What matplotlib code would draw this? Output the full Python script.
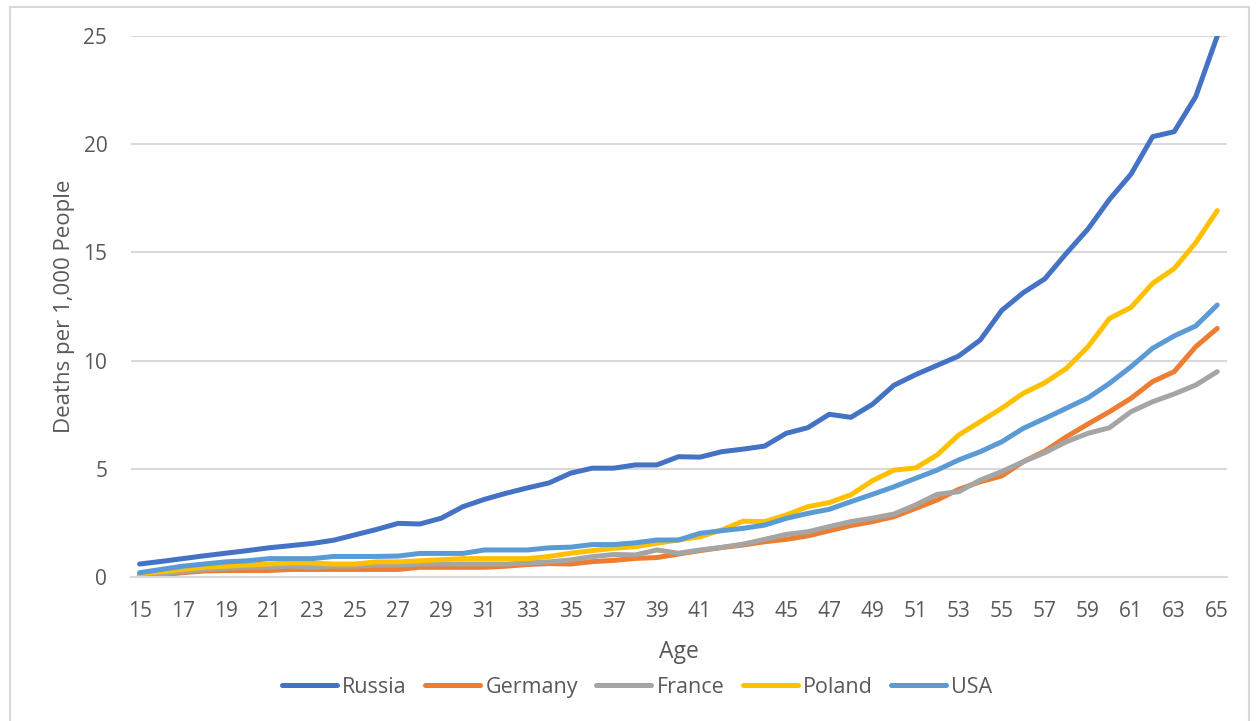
import matplotlib
matplotlib.use("Agg")
import matplotlib.pyplot as plt
from matplotlib.patches import Rectangle

ages = list(range(15, 66))

russia = [0.60, 0.72, 0.85, 0.98, 1.10, 1.22, 1.35, 1.45, 1.55, 1.70,
          1.95, 2.20, 2.48, 2.45, 2.72, 3.25, 3.59, 3.87, 4.12, 4.35,
          4.80, 5.03, 5.03, 5.18, 5.18, 5.56, 5.54, 5.79, 5.91, 6.05,
          6.64, 6.90, 7.52, 7.38, 7.98, 8.86, 9.35, 9.78, 10.21, 10.95,
          12.32, 13.14, 13.78, 14.96, 16.08, 17.45, 18.62, 20.35, 20.58, 22.20,
          25.00]
germany = [0.05, 0.10, 0.20, 0.28, 0.30, 0.30, 0.30, 0.35, 0.35, 0.35,
           0.35, 0.35, 0.35, 0.45, 0.45, 0.45, 0.45, 0.50, 0.58, 0.62,
           0.60, 0.71, 0.77, 0.86, 0.90, 1.06, 1.22, 1.36, 1.48, 1.63,
           1.74, 1.90, 2.14, 2.38, 2.56, 2.79, 3.17, 3.56, 4.05, 4.40,
           4.67, 5.33, 5.82, 6.48, 7.07, 7.64, 8.26, 9.03, 9.49, 10.64,
           11.49]
france = [0.10, 0.15, 0.25, 0.35, 0.40, 0.45, 0.45, 0.50, 0.45, 0.50,
          0.50, 0.55, 0.55, 0.60, 0.60, 0.60, 0.60, 0.60, 0.65, 0.70,
          0.79, 0.94, 1.04, 1.02, 1.25, 1.10, 1.25, 1.37, 1.52, 1.74,
          1.97, 2.09, 2.33, 2.56, 2.72, 2.91, 3.33, 3.82, 3.94, 4.48,
          4.87, 5.33, 5.75, 6.25, 6.64, 6.90, 7.64, 8.10, 8.46, 8.87,
          9.49]
poland = [0.15, 0.25, 0.35, 0.45, 0.50, 0.55, 0.60, 0.65, 0.65, 0.60,
          0.60, 0.70, 0.70, 0.75, 0.80, 0.85, 0.85, 0.85, 0.85, 0.95,
          1.10, 1.22, 1.33, 1.40, 1.56, 1.71, 1.86, 2.17, 2.58, 2.56,
          2.87, 3.25, 3.44, 3.80, 4.45, 4.94, 5.04, 5.64, 6.56, 7.18,
          7.80, 8.49, 8.98, 9.64, 10.64, 11.95, 12.46, 13.57, 14.25, 15.45,
          16.93]
usa = [0.20, 0.35, 0.50, 0.60, 0.70, 0.75, 0.85, 0.85, 0.85, 0.95,
       0.95, 0.95, 0.97, 1.09, 1.09, 1.09, 1.25, 1.25, 1.25, 1.35,
       1.38, 1.50, 1.50, 1.58, 1.71, 1.71, 2.02, 2.14, 2.25, 2.40,
       2.71, 2.94, 3.13, 3.48, 3.82, 4.17, 4.56, 4.94, 5.41, 5.79,
       6.25, 6.87, 7.33, 7.80, 8.28, 8.95, 9.72, 10.57, 11.14, 11.60,
       12.57]

series = [("Russia", russia, "#4472C4"),
          ("Germany", germany, "#ED7D31"),
          ("France", france, "#A5A5A5"),
          ("Poland", poland, "#FFC000"),
          ("USA", usa, "#5B9BD5")]

x_tick_labels = [str(a) for a in ages[::2]]
y_ticks = [0, 5, 10, 15, 20, 25]

text_color = "#595959"
grid_color = "#D9D9D9"
plt.rcParams["font.family"] = ["Open Sans", "DejaVu Sans"]

fig = plt.figure(figsize=(12.57, 7.21), dpi=100)
ax = fig.add_axes([0.1042, 0.1997, 0.8719, 0.7503])

for name, vals, color in series:
    ax.plot(ages, vals, color=color, linewidth=3.6, label=name,
            solid_capstyle="round", solid_joinstyle="round")

ax.set_xlim(14.6, 65.45)
ax.set_ylim(0, 25)
ax.set_xticks(ages[::2])
ax.set_xticklabels(x_tick_labels)
ax.set_yticks(y_ticks)
ax.yaxis.grid(True, color=grid_color, linewidth=1.5)
ax.set_axisbelow(True)
for side in ("top", "right", "left"):
    ax.spines[side].set_visible(False)
ax.spines["bottom"].set_color(grid_color)
ax.spines["bottom"].set_linewidth(1.5)
ax.tick_params(axis="both", length=0, labelsize=15, labelcolor=text_color)
ax.tick_params(axis="x", pad=17)
ax.tick_params(axis="y", pad=17)

ax.set_xlabel("Age", fontsize=16.5, color=text_color, labelpad=13)
ax.set_ylabel("Deaths per 1,000 People", fontsize=16, color=text_color, labelpad=6)

leg = fig.legend(loc="center", bbox_to_anchor=(0.507, 0.047), ncol=5,
                 frameon=False, fontsize=15.5, handlelength=2.55,
                 handletextpad=0.25, columnspacing=0.85)
for t in leg.get_texts():
    t.set_color(text_color)
for h in leg.get_lines():
    h.set_linewidth(3.6)

fig.patches.append(Rectangle((0.008, -0.02), 0.986, 1.01, transform=fig.transFigure,
                             fill=False, edgecolor=grid_color, linewidth=1.5))

fig.savefig("out.png", dpi=100, facecolor="white")
